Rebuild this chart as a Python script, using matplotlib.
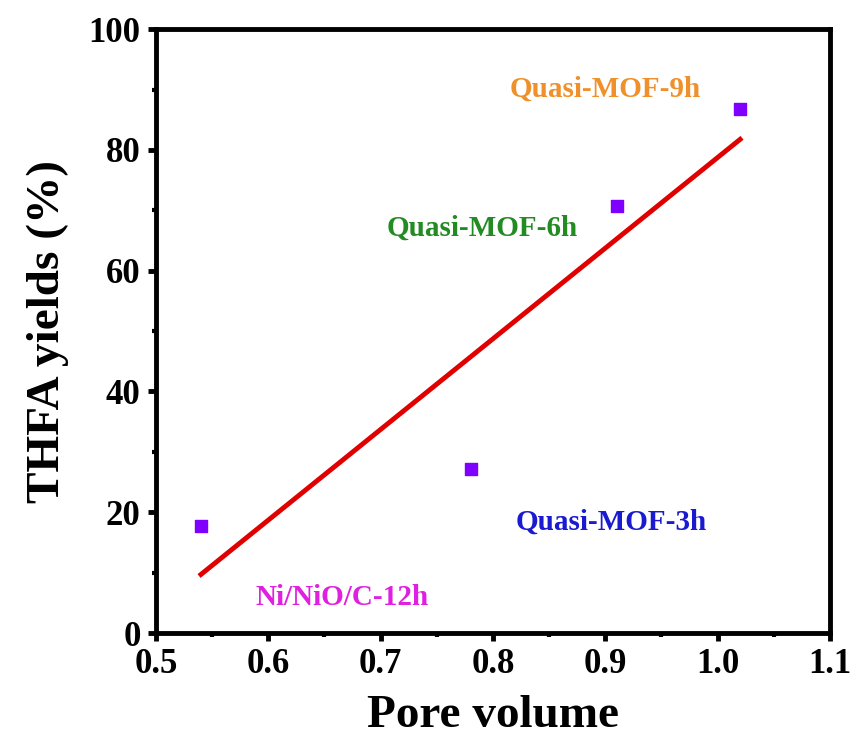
import numpy as np
import matplotlib.pyplot as plt

# Datos
pore_volume = [0.54, 0.78, 0.91, 1.02]
thfa_yield = [17.7, 27.2, 70.7, 86.8]

etiquetas = ['Ni/NiO/C-12h', 'Quasi-MOF-3h', 'Quasi-MOF-6h', 'Quasi-MOF-9h']
etiq_x = [0.666, 0.905, 0.79, 0.90]
etiq_y = [5.8, 18.4, 67.0, 90.0]
etiq_col = ['#E020E0', '#1A1AD0', '#228B22', '#F0902A']

plt.rcParams['font.family'] = 'Liberation Serif'
plt.rcParams['font.weight'] = 'bold'

fig = plt.figure(figsize=(8.57, 7.47), dpi=100)
ax = fig.add_axes([0.182, 0.1526, 0.7865, 0.8084])

# Ajuste lineal
p = np.polyfit(pore_volume, thfa_yield, 1)
xf = np.array([min(pore_volume), max(pore_volume)])
ax.plot(xf, np.polyval(p, xf), color='#E00000', lw=3.5, zorder=2)

ax.scatter(pore_volume, thfa_yield, marker='s', s=85, color='#8000FF', zorder=3)

for t, x, y, c in zip(etiquetas, etiq_x, etiq_y, etiq_col):
    ax.text(x, y, t, color=c, fontsize=21, fontweight='bold', ha='center', va='center')

ax.set_xlim(0.5, 1.1)
ax.set_ylim(0, 100)
ax.set_xticks(np.arange(0.5, 1.11, 0.1))
ax.set_xticklabels(['0.5', '0.6', '0.7', '0.8', '0.9', '1.0', '1.1'])
ax.set_xticks(np.arange(0.55, 1.1, 0.1), minor=True)
ax.set_yticks(np.arange(0, 101, 20))
ax.set_yticks(np.arange(10, 100, 20), minor=True)

for s in ax.spines.values():
    s.set_linewidth(3.5)
ax.tick_params(which='major', direction='out', length=6, width=3.5, labelsize=25, pad=5)
ax.tick_params(which='minor', direction='out', length=3, width=3)
ax.tick_params(top=False, right=False)

ax.set_xlabel('Pore volume', fontsize=34, fontweight='bold', labelpad=10)
ax.set_ylabel('THFA yields (%)', fontsize=34, fontweight='bold', labelpad=14)

plt.savefig('out.png', dpi=100)
